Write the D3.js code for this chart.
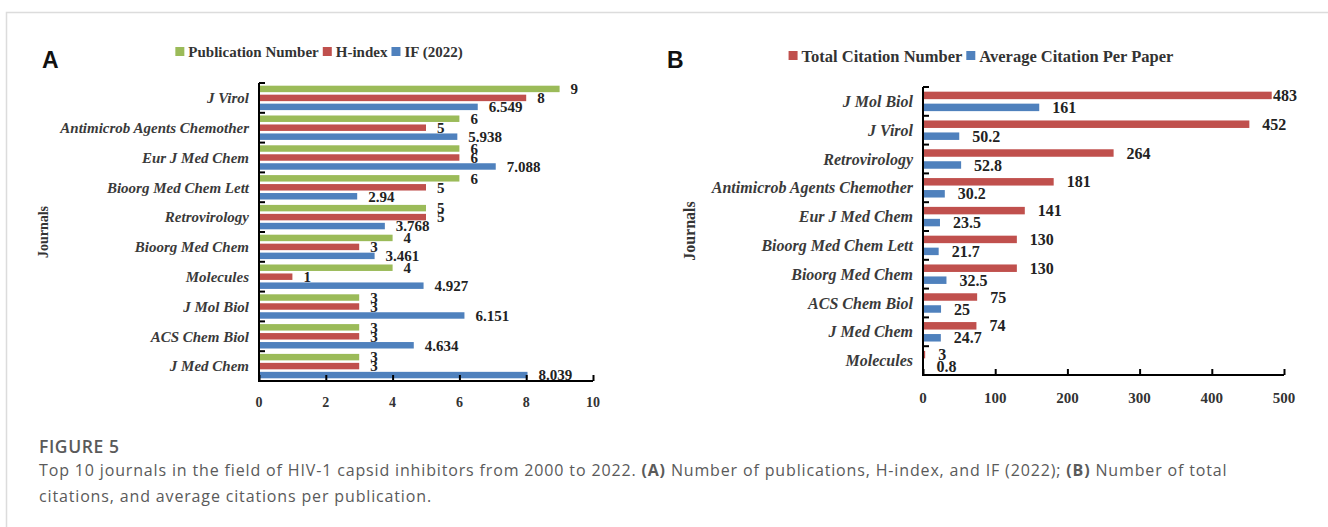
<!DOCTYPE html>
<html>
<head>
<meta charset="utf-8">
<script src="https://cdn.jsdelivr.net/npm/d3@7"></script>
<style>
    body { margin: 0; background: #fff; }
    svg { display: block; }
    .axis path, .axis line { stroke: #000; stroke-width: 2; }
    .serif { font-family: "Liberation Serif", "Times New Roman", serif; font-weight: bold; }
</style>
</head>
<body>
<script>
//journals for panel A, top to bottom
var journalsA = ["J Virol", "Antimicrob Agents Chemother", "Eur J Med Chem", "Bioorg Med Chem Lett",
    "Retrovirology", "Bioorg Med Chem", "Molecules", "J Mol Biol", "ACS Chem Biol", "J Med Chem"];
var pubNumber = [9, 6, 6, 6, 5, 4, 4, 3, 3, 3];
var hIndex = [8, 5, 6, 5, 5, 3, 1, 3, 3, 3];
var impactFactor = ["6.549", "5.938", "7.088", "2.94", "3.768", "3.461", "4.927", "6.151", "4.634", "8.039"];
var ticksA = [0, 2, 4, 6, 8, 10];

//journals for panel B, top to bottom
var journalsB = ["J Mol Biol", "J Virol", "Retrovirology", "Antimicrob Agents Chemother", "Eur J Med Chem",
    "Bioorg Med Chem Lett", "Bioorg Med Chem", "ACS Chem Biol", "J Med Chem", "Molecules"];
var totalCitation = [483, 452, 264, 181, 141, 130, 130, 75, 74, 3];
var avgCitation = ["161", "50.2", "52.8", "30.2", "23.5", "21.7", "32.5", "25", "24.7", "0.8"];
var ticksB = [0, 100, 200, 300, 400, 500];

var green = "#9bbb59", red = "#c0504d", blue = "#4f81bd";

window.onload = setPage();

function setPage() {
    var svg = d3.select("body").append("svg")
        .attr("width", 1328)
        .attr("height", 527);

    //light frame round the figure
    svg.append("path")
        .attr("d", "M6.5,527V12.5H1328")
        .attr("fill", "none")
        .attr("stroke", "#dcdcdc")
        .attr("stroke-width", 1.5);

    //panel A
    var seriesA = [
        {name: "Publication Number", color: green, values: pubNumber},
        {name: "H-index", color: red, values: hIndex},
        {name: "IF (2022)", color: blue, values: impactFactor}
    ];
    drawPanel(svg, {
        letter: "A", letterX: 42,
        left: 259, right: 593, top: 83, bottom: 381,
        journals: journalsA, series: seriesA, ticks: ticksA,
        inner: [0.28, 0.3],
        labelSize: 15, valueSize: 15, tickSize: 14, tickY: 407,
        titleX: 48, titleSize: 14,
        legendCenter: 319, legendY: 52, legendSize: 15,
        offset: 11
    });

    //panel B
    var seriesB = [
        {name: "Total Citation Number", color: red, values: totalCitation},
        {name: "Average Citation Per Paper", color: blue, values: avgCitation}
    ];
    drawPanel(svg, {
        letter: "B", letterX: 667,
        left: 923, right: 1284, top: 87, bottom: 375,
        journals: journalsB, series: seriesB, ticks: ticksB,
        inner: [0.375, 0.39],
        labelSize: 16, valueSize: 16, tickSize: 15, tickY: 403,
        titleX: 695, titleSize: 16,
        legendCenter: 981, legendY: 56, legendSize: 16.5,
        offset: 13
    });

    //caption below the panels
    var caption = svg.append("g")
        .attr("font-family", "'Open Sans', sans-serif")
        .attr("fill", "#5a5a5a");
    caption.append("text")
        .attr("x", 39).attr("y", 453)
        .attr("font-size", 17.5)
        .attr("font-weight", 600)
        .attr("letter-spacing", 0.6)
        .text("FIGURE 5");
    var line1 = caption.append("text")
        .attr("x", 39).attr("y", 476)
        .attr("font-size", 16)
        .attr("letter-spacing", 0.85);
    line1.append("tspan").text("Top 10 journals in the field of HIV-1 capsid inhibitors from 2000 to 2022. ");
    line1.append("tspan").attr("font-weight", "bold").text("(A)");
    line1.append("tspan").text(" Number of publications, H-index, and IF (2022); ");
    line1.append("tspan").attr("font-weight", "bold").text("(B)");
    line1.append("tspan").text(" Number of total");
    caption.append("text")
        .attr("x", 39).attr("y", 502)
        .attr("font-size", 16)
        .attr("letter-spacing", 0.85)
        .text("citations, and average citations per publication.");
}

function drawPanel(svg, p) {
    var g = svg.append("g");

    //panel letter
    g.append("text")
        .attr("x", p.letterX).attr("y", 68)
        .attr("font-family", "'Liberation Sans', Arial, sans-serif")
        .attr("font-weight", "bold")
        .attr("font-size", 23)
        .attr("fill", "#111")
        .text(p.letter);

    var x = d3.scaleLinear()
        .domain([p.ticks[0], p.ticks[p.ticks.length - 1]])
        .range([p.left, p.right]);

    var y = d3.scaleBand()
        .domain(p.journals)
        .range([p.top, p.bottom]);

    var ySub = d3.scaleBand()
        .domain(p.series.map(function(s) { return s.name; }))
        .range([0, y.bandwidth()])
        .paddingInner(p.inner[0])
        .paddingOuter(p.inner[1]);

    //bars and value labels for each series
    p.series.forEach(function(s) {
        var rows = p.journals.map(function(j, i) { return {journal: j, value: s.values[i]}; });
        g.selectAll(null)
            .data(rows)
            .enter()
          .append("rect")
            .attr("x", x(0))
            .attr("y", function(d) { return y(d.journal) + ySub(s.name); })
            .attr("width", function(d) { return Math.max(x(+d.value) - x(0), 1); })
            .attr("height", ySub.bandwidth())
            .attr("fill", s.color);

        g.selectAll(null)
            .data(rows)
            .enter()
          .append("text")
            .attr("class", "serif")
            .attr("x", function(d) { return Math.min(x(+d.value) + p.offset, p.right - 11); })
            .attr("y", function(d) { return y(d.journal) + ySub(s.name) + ySub.bandwidth() / 2; })
            .attr("dy", "0.35em")
            .attr("font-size", p.valueSize)
            .attr("fill", "#222")
            .text(function(d) { return d.value; });
    });

    //x axis with ticks pointing up into the plot
    var xAxis = g.append("g")
        .attr("class", "axis")
        .attr("transform", "translate(0," + p.bottom + ")")
        .call(d3.axisTop(x).tickValues(p.ticks).tickSize(6).tickSizeOuter(0).tickFormat(""));
    xAxis.select(".domain").attr("d", "M" + p.left + ",0H" + p.right);

    g.selectAll(null)
        .data(p.ticks)
        .enter()
      .append("text")
        .attr("class", "serif")
        .attr("x", function(d) { return x(d); })
        .attr("y", p.tickY)
        .attr("text-anchor", "middle")
        .attr("font-size", p.tickSize)
        .attr("fill", "#333")
        .text(function(d) { return d; });

    //y axis: ticks at the band edges, pointing right
    var edges = p.journals.map(function(j) { return y(j); });
    g.append("line")
        .attr("x1", p.left).attr("x2", p.left)
        .attr("y1", p.top).attr("y2", p.bottom + 1)
        .attr("stroke", "#000").attr("stroke-width", 2);
    g.selectAll(null)
        .data(edges)
        .enter()
      .append("line")
        .attr("x1", p.left).attr("x2", p.left + 6)
        .attr("y1", function(d) { return d; }).attr("y2", function(d) { return d; })
        .attr("stroke", "#000").attr("stroke-width", 2);

    //journal names
    g.selectAll(null)
        .data(p.journals)
        .enter()
      .append("text")
        .attr("class", "serif")
        .attr("font-style", "italic")
        .attr("x", p.left - 10)
        .attr("y", function(d) { return y(d) + y.bandwidth() / 2; })
        .attr("dy", "0.35em")
        .attr("text-anchor", "end")
        .attr("font-size", p.labelSize)
        .attr("fill", "#3a3a3a")
        .text(function(d) { return d; });

    //axis title
    g.append("text")
        .attr("class", "serif")
        .attr("transform", "translate(" + p.titleX + "," + ((p.top + p.bottom) / 2) + ") rotate(-90)")
        .attr("text-anchor", "middle")
        .attr("font-size", p.titleSize)
        .attr("fill", "#333")
        .text("Journals");

    //legend, laid out from measured text widths and centred
    var legend = g.append("g");
    var cursor = 0;
    p.series.forEach(function(s, i) {
        if (i > 0) cursor += 4;
        legend.append("rect")
            .attr("x", cursor).attr("y", -5)
            .attr("width", 9).attr("height", 9)
            .attr("fill", s.color);
        var t = legend.append("text")
            .attr("class", "serif")
            .attr("x", cursor + 13)
            .attr("y", 0)
            .attr("dy", "0.35em")
            .attr("font-size", p.legendSize)
            .attr("fill", "#333")
            .text(s.name);
        cursor += 13 + t.node().getComputedTextLength();
    });
    legend.attr("transform", "translate(" + (p.legendCenter - cursor / 2) + "," + p.legendY + ")");
}
</script>
</body>
</html>
